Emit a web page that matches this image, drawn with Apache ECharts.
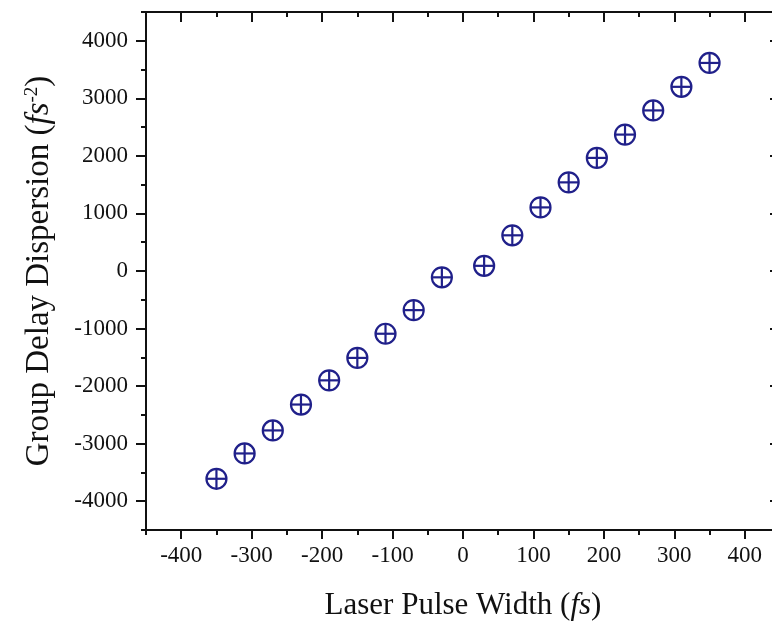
<!DOCTYPE html>
<html>
<head>
<meta charset="utf-8">
<script src="https://cdn.jsdelivr.net/npm/echarts@6/dist/echarts.min.js"></script>
<style>
  html, body { margin: 0; padding: 0; background: #fff; }
  #chart { width: 772px; height: 621px; }
</style>
</head>
<body>
<div id="chart"></div>
<script>
// Laser pulse width (fs) and the measured group delay dispersion
const pulseWidth = [-350, -310, -270, -230, -190, -150, -110, -70, -30,
                    30, 70, 110, 150, 190, 230, 270, 310, 350];
const groupDelayDispersion = [-3610, -3170, -2770, -2320, -1900, -1510, -1090, -680, -110,
                              90, 620, 1105, 1540, 1965, 2370, 2790, 3200, 3615];

// Axis ranges and tick positions
const xRange = [-450, 450];
const yRange = [-4500, 4500];
const xMajorTicks = [-400, -300, -200, -100, 0, 100, 200, 300, 400];
const xMinorTicks = [-450, -350, -250, -150, -50, 50, 150, 250, 350, 450];
const yMajorTicks = [-4000, -3000, -2000, -1000, 0, 1000, 2000, 3000, 4000];
const yMinorTicks = [-4500, -3500, -2500, -1500, -500, 500, 1500, 2500, 3500, 4500];

const FONT = '"Liberation Serif", "Times New Roman", serif';
const INK = '#111';
const MARK = '#20208a';

function axisBase(range, extra) {
  return Object.assign({
    type: 'value',
    min: range[0],
    max: range[1],
    splitLine: { show: false },
    axisLine: { show: false, onZero: false },
    axisLabel: { show: false },
    axisTick: { show: false }
  }, extra);
}

function tickSet(values, length, inside) {
  return {
    show: true,
    customValues: values,
    length: length,
    inside: inside,
    lineStyle: { color: INK, width: 2 }
  };
}

const lineStyle = { show: true, onZero: false, lineStyle: { color: INK, width: 2 } };
const plainNumber = v => String(v);

const option = {
  backgroundColor: '#fff',
  animation: false,
  grid: {
    left: 146, top: 12, width: 634, height: 518,
    containLabel: false, outerBoundsMode: 'none'
  },
  xAxis: [
    axisBase(xRange, {
      position: 'bottom',
      axisLine: lineStyle,
      axisTick: tickSet(xMajorTicks, 9, false),
      axisLabel: {
        show: true, customValues: xMajorTicks, margin: 14, formatter: plainNumber,
        fontFamily: FONT, fontSize: 23, color: INK
      },
      name: '{n|Laser Pulse Width (}{i|fs}{n|)}',
      nameLocation: 'middle',
      nameGap: 60,
      nameTextStyle: {
        rich: {
          n: { fontFamily: FONT, fontSize: 31, color: INK },
          i: { fontFamily: FONT, fontSize: 31, fontStyle: 'italic', color: INK }
        }
      }
    }),
    axisBase(xRange, { position: 'bottom', axisTick: tickSet(xMinorTicks, 5, false) }),
    axisBase(xRange, { position: 'top', axisLine: lineStyle, axisTick: tickSet(xMajorTicks, 10, true) }),
    axisBase(xRange, { position: 'top', axisTick: tickSet(xMinorTicks, 5, true) })
  ],
  yAxis: [
    axisBase(yRange, {
      position: 'left',
      axisLine: lineStyle,
      axisTick: tickSet(yMajorTicks, 10, false),
      axisLabel: {
        show: true, customValues: yMajorTicks, margin: 18, formatter: plainNumber,
        fontFamily: FONT, fontSize: 23, color: INK
      },
      name: '{n|Group Delay Dispersion (}{i|fs}{s|-2}{n|)}',
      nameLocation: 'middle',
      nameGap: 90,
      nameRotate: 90,
      nameTextStyle: {
        rich: {
          n: { fontFamily: FONT, fontSize: 33, color: INK },
          i: { fontFamily: FONT, fontSize: 33, fontStyle: 'italic', color: INK },
          s: { fontFamily: FONT, fontSize: 19, verticalAlign: 'top', color: INK }
        }
      }
    }),
    axisBase(yRange, { position: 'left', axisTick: tickSet(yMinorTicks, 5, false) }),
    axisBase(yRange, { position: 'right', axisLine: lineStyle, axisTick: tickSet(yMajorTicks, 10, true) }),
    axisBase(yRange, { position: 'right', axisTick: tickSet(yMinorTicks, 5, true) })
  ],
  series: [{
    type: 'custom',
    xAxisIndex: 0,
    yAxisIndex: 0,
    data: pulseWidth.map((x, i) => [x, groupDelayDispersion[i]]),
    renderItem: function (params, api) {
      const p = api.coord([api.value(0), api.value(1)]);
      const r = 10;
      const style = { fill: 'none', stroke: MARK, lineWidth: 2.2 };
      return {
        type: 'group',
        children: [
          { type: 'circle', shape: { cx: p[0], cy: p[1], r: r }, style: style },
          { type: 'line', shape: { x1: p[0] - r, y1: p[1], x2: p[0] + r, y2: p[1] }, style: style },
          { type: 'line', shape: { x1: p[0], y1: p[1] - r, x2: p[0], y2: p[1] + r }, style: style }
        ]
      };
    }
  }]
};

const chart = echarts.init(document.getElementById('chart'), null, { renderer: 'canvas' });
chart.setOption(option);
</script>
</body>
</html>
